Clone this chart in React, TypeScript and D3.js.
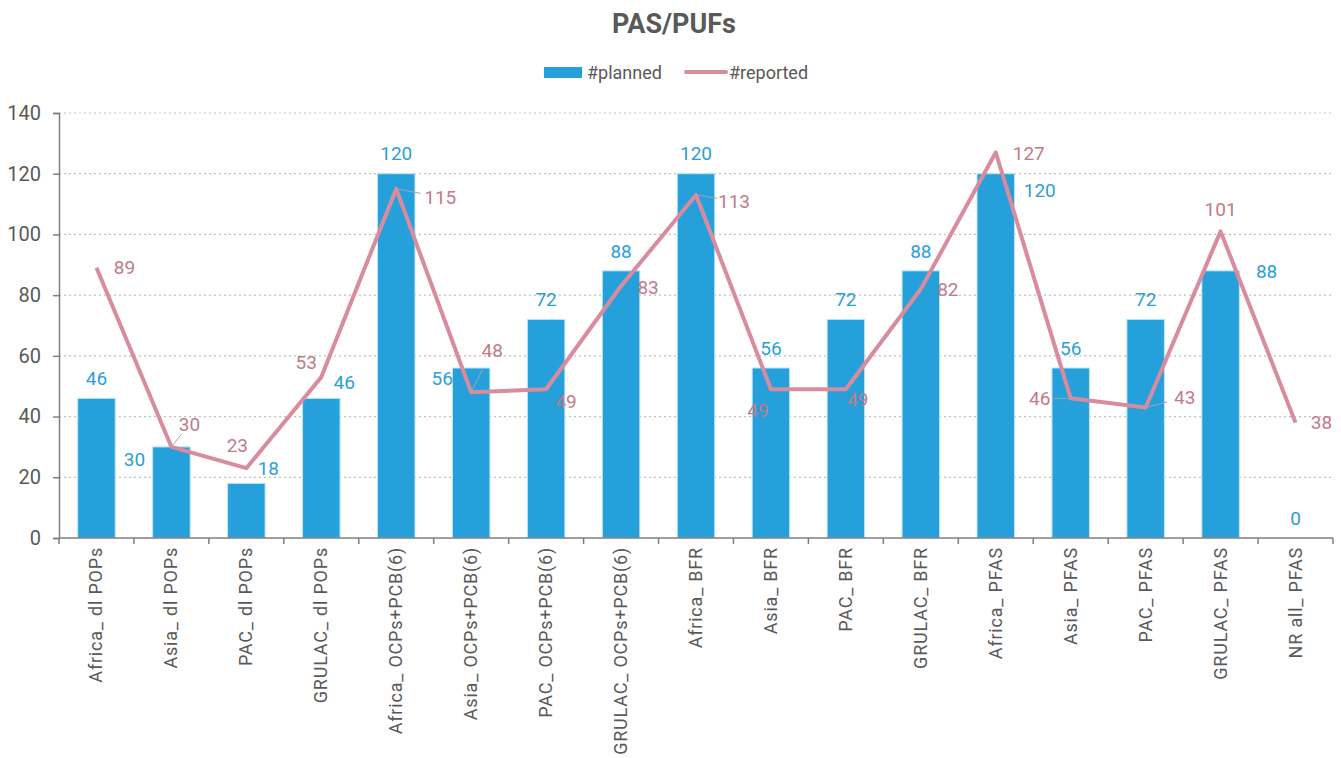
import { useEffect, useRef } from "react";
import * as d3 from "d3";

const categories = [
  "Africa_ dl POPs",
  "Asia_ dl POPs",
  "PAC_ dl POPs",
  "GRULAC_ dl POPs",
  "Africa_ OCPs+PCB(6)",
  "Asia_ OCPs+PCB(6)",
  "PAC_ OCPs+PCB(6)",
  "GRULAC_ OCPs+PCB(6)",
  "Africa_ BFR",
  "Asia_ BFR",
  "PAC_ BFR",
  "GRULAC_ BFR",
  "Africa_ PFAS",
  "Asia_ PFAS",
  "PAC_ PFAS",
  "GRULAC_ PFAS",
  "NR all_ PFAS",
];
const planned = [46, 30, 18, 46, 120, 56, 72, 88, 120, 56, 72, 88, 120, 56, 72, 88, 0];
const reported = [89, 30, 23, 53, 115, 48, 49, 83, 113, 49, 49, 82, 127, 46, 43, 101, 38];
const yTicks = [0, 20, 40, 60, 80, 100, 120, 140];

// label placement (dx, dy offsets from the point), like excel's dragged labels
const plannedLabelPos: [number, number][] = [
  [0, -20], [-37, 12], [22, -15], [23, -16], [0, -20], [-29, 10], [0, -20], [0, -20],
  [0, -20], [0, -20], [0, -20], [0, -20], [44, 17], [0, -20], [0, -20], [46, 0], [0, -20],
];
const reportedLabelPos: [number, number][] = [
  [28, 0], [18, -23], [-9, -23], [-15, -15], [44, 8], [21, -42], [20, 12], [27, 1],
  [38, 6], [-13, 21], [12, 10], [27, 0], [33, 1], [-31, 0], [39, -10], [0, -22], [26, 0],
];
// which labels get a little leader line
const reportedLeader = [false, true, false, false, true, true, false, false, true, false, false, false, false, true, true, false, false];

const BLUE = "#25a0da";
const PINK = "#d98c9d";
const PINK_TEXT = "#c27a8b";
const GREY = "#595959";

export default function App() {
  const ref = useRef<SVGSVGElement | null>(null);

  useEffect(() => {
    if (!ref.current) return;
    ref.current.innerHTML = "";
    const width = 1341,
      height = 758;
    const margin = { top: 113, right: 8, bottom: 220, left: 59 };

    const svg = d3.select(ref.current).style("font-family", "Roboto, sans-serif");

    // title
    svg
      .append("text")
      .attr("x", 674)
      .attr("y", 33)
      .attr("text-anchor", "middle")
      .attr("font-size", 27)
      .attr("font-weight", "bold")
      .attr("fill", GREY)
      .text("PAS/PUFs");

    // legend
    const lg = svg.append("g").attr("transform", "translate(544,72)");
    lg.append("rect").attr("x", 0).attr("y", -5).attr("width", 38).attr("height", 11).attr("fill", BLUE);
    lg.append("text").attr("x", 43).attr("y", 7).attr("font-size", 18).attr("fill", GREY).text("#planned");
    lg.append("line")
      .attr("x1", 142).attr("x2", 182).attr("y1", 0).attr("y2", 0)
      .attr("stroke", PINK).attr("stroke-width", 4).attr("stroke-linecap", "round");
    lg.append("text").attr("x", 185).attr("y", 7).attr("font-size", 18).attr("fill", GREY).text("#reported");

    const x = d3
      .scaleBand()
      .domain(categories)
      .range([margin.left, width - margin.right])
      .paddingInner(0.5)
      .paddingOuter(0.25);
    const y = d3.scaleLinear().domain([0, 140]).range([height - margin.bottom, margin.top]);
    const cx = (i: number) => (x(categories[i]) ?? 0) + x.bandwidth() / 2;

    // gridlines
    svg
      .append("g")
      .selectAll("line")
      .data(yTicks.slice(1))
      .join("line")
      .attr("x1", margin.left)
      .attr("x2", width - margin.right)
      .attr("y1", (d) => y(d))
      .attr("y2", (d) => y(d))
      .attr("stroke", "#bfbfbf")
      .attr("stroke-width", 1.2)
      .attr("stroke-dasharray", "2,3");

    // y axis
    const yAxis = svg
      .append("g")
      .attr("transform", `translate(${margin.left},0)`)
      .call(d3.axisLeft(y).tickValues(yTicks).tickSize(6).tickPadding(12));
    yAxis.select(".domain").attr("stroke", "#7f7f7f").attr("stroke-width", 1.5);
    yAxis.selectAll(".tick line").attr("stroke", "#7f7f7f").attr("stroke-width", 1.5);
    yAxis.selectAll("text").attr("font-size", 20).attr("fill", GREY).attr("font-family", "Roboto, sans-serif");

    // bars
    svg
      .append("g")
      .selectAll("rect")
      .data(planned)
      .join("rect")
      .attr("x", (_, i) => x(categories[i]) ?? 0)
      .attr("y", (d) => y(d))
      .attr("width", x.bandwidth())
      .attr("height", (d) => y(0) - y(d))
      .attr("fill", BLUE)
      .attr("stroke", "#bfe3f4")
      .attr("stroke-width", 1);

    // x axis
    const step = x.step();
    const xg = svg.append("g");
    xg.append("line")
      .attr("x1", margin.left)
      .attr("x2", width - margin.right)
      .attr("y1", y(0))
      .attr("y2", y(0))
      .attr("stroke", "#7f7f7f")
      .attr("stroke-width", 1.5);
    xg.selectAll("line.tk")
      .data(d3.range(categories.length + 1))
      .join("line")
      .attr("class", "tk")
      .attr("x1", (i) => margin.left + i * step)
      .attr("x2", (i) => margin.left + i * step)
      .attr("y1", y(0))
      .attr("y2", y(0) + 6)
      .attr("stroke", "#7f7f7f")
      .attr("stroke-width", 1.5);
    xg.selectAll("text")
      .data(categories)
      .join("text")
      .attr("transform", (_, i) => `translate(${cx(i) + 6},${y(0) + 9}) rotate(-90)`)
      .attr("text-anchor", "end")
      .attr("font-size", 18)
      .attr("letter-spacing", 0.8)
      .attr("fill", GREY)
      .text((d) => d);

    // reported line
    const line = d3
      .line<number>()
      .x((_, i) => cx(i))
      .y((d) => y(d));
    svg
      .append("path")
      .datum(reported)
      .attr("d", line)
      .attr("fill", "none")
      .attr("stroke", PINK)
      .attr("stroke-width", 4)
      .attr("stroke-linejoin", "round");

    // leader lines
    svg
      .append("g")
      .selectAll("line")
      .data(reported.map((v, i) => ({ v, i })).filter((d) => reportedLeader[d.i]))
      .join("line")
      .attr("x1", (d) => cx(d.i))
      .attr("y1", (d) => y(d.v))
      .attr("x2", (d) => cx(d.i) + reportedLabelPos[d.i][0] * 0.55)
      .attr("y2", (d) => y(d.v) + reportedLabelPos[d.i][1] * 0.55)
      .attr("stroke", "#a6a6a6")
      .attr("stroke-width", 1);

    // planned labels
    svg
      .append("g")
      .selectAll("text")
      .data(planned)
      .join("text")
      .attr("x", (_, i) => cx(i) + plannedLabelPos[i][0])
      .attr("y", (d, i) => y(d) + plannedLabelPos[i][1])
      .attr("dy", "0.35em")
      .attr("text-anchor", "middle")
      .attr("font-size", 19)
      .attr("fill", "#2a9fd8")
      .text((d) => d);

    // reported labels
    svg
      .append("g")
      .selectAll("text")
      .data(reported)
      .join("text")
      .attr("x", (_, i) => cx(i) + reportedLabelPos[i][0])
      .attr("y", (d, i) => y(d) + reportedLabelPos[i][1])
      .attr("dy", "0.35em")
      .attr("text-anchor", "middle")
      .attr("font-size", 19)
      .attr("fill", PINK_TEXT)
      .text((d) => d);
  }, []);

  return (
    <svg
      ref={ref}
      width={1341}
      height={758}
      style={{ position: "absolute", left: 0, top: 0, background: "#fff" }}
    />
  );
}
